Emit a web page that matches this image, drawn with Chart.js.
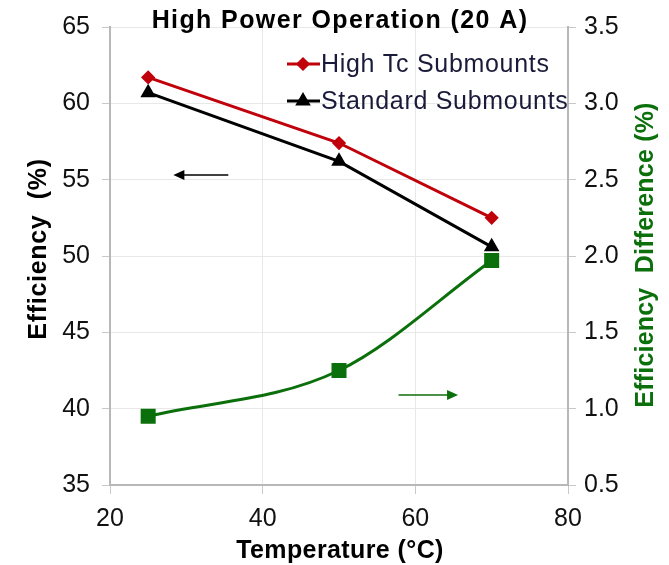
<!DOCTYPE html>
<html>
<head>
<meta charset="utf-8">
<script src="https://cdn.jsdelivr.net/npm/chart.js@4.4.1/dist/chart.umd.min.js"></script>
<style>
  html, body { margin: 0; padding: 0; background: #fff; }
  #wrap { width: 669px; height: 565px; position: relative; }
</style>
</head>
<body>
<div id="wrap"><canvas id="myChart"></canvas></div>
<script>
// temperatures (°C)
const temps = [25, 50, 70];
// efficiency (%) on the left axis
const highTc = [61.7, 57.4, 52.5];
const standard = [60.7, 56.2, 50.6];
// efficiency difference (%) on the right axis
const diff = [0.95, 1.25, 1.97];

const xTicks = [20, 40, 60, 80];
const leftTicks = [35, 40, 45, 50, 55, 60, 65];
const rightTicks = [0.5, 1.0, 1.5, 2.0, 2.5, 3.0, 3.5];

// arrows telling which axis a curve belongs to: [x0, x1, y]
const leftArrow = [35.5, 28.3, 55.3];
const rightArrow = [57.8, 65.6, 1.09];

const green = '#0b6f0b';
const red = '#c0000a';
const font = '"Liberation Sans", Arial, sans-serif';

const toPts = (ys) => temps.map((t, i) => ({ x: t, y: ys[i] }));

const drawArrow = (ctx, x0, x1, y, color) => {
  const dir = Math.sign(x1 - x0);
  ctx.save();
  ctx.strokeStyle = color;
  ctx.fillStyle = color;
  ctx.lineWidth = 1.5;
  ctx.beginPath();
  ctx.moveTo(x0, y);
  ctx.lineTo(x1 - dir * 8, y);
  ctx.stroke();
  ctx.beginPath();
  ctx.moveTo(x1, y);
  ctx.lineTo(x1 - dir * 11, y - 5);
  ctx.lineTo(x1 - dir * 11, y + 5);
  ctx.closePath();
  ctx.fill();
  ctx.restore();
};

const text = (ctx, str, x, y, opts) => {
  ctx.save();
  ctx.translate(x, y);
  if (opts.rotate) ctx.rotate(opts.rotate);
  ctx.font = opts.font;
  ctx.letterSpacing = (opts.spacing || 0) + 'px';
  ctx.fillStyle = opts.color;
  ctx.textAlign = opts.align || 'center';
  ctx.textBaseline = 'middle';
  ctx.fillText(str, 0, 0);
  ctx.restore();
};

const extras = {
  id: 'extras',
  afterDatasetsDraw(chart) {
    const { ctx, scales } = chart;
    const x = scales.x, yl = scales.y, yr = scales.y2;

    drawArrow(ctx, x.getPixelForValue(leftArrow[0]), x.getPixelForValue(leftArrow[1]),
      yl.getPixelForValue(leftArrow[2]), '#000');
    drawArrow(ctx, x.getPixelForValue(rightArrow[0]), x.getPixelForValue(rightArrow[1]),
      yr.getPixelForValue(rightArrow[2]), green);

    const bold = 'bold 25px ' + font;
    // title sits on the top edge of the plot
    text(ctx, 'High Power Operation (20 A)', 340, 21, { font: bold, color: '#000', spacing: 1.4 });
    // axis titles
    text(ctx, 'Temperature (°C)', 340, 551, { font: bold, color: '#000', spacing: 0.4 });
    text(ctx, 'Efficiency  (%)', 39, 249, { font: bold, color: '#000', spacing: 0.7, rotate: -Math.PI / 2 });
    text(ctx, 'Efficiency  Difference (%)', 646, 255, { font: bold, color: green, spacing: 0.2, rotate: -Math.PI / 2 });

    // legend inside the plot, top right
    const items = [
      { label: 'High Tc Submounts', color: red, marker: 'rectRot', y: 64 },
      { label: 'Standard Submounts', color: '#000', marker: 'triangle', y: 101 }
    ];
    items.forEach(it => {
      ctx.save();
      ctx.strokeStyle = it.color;
      ctx.lineWidth = 3;
      ctx.beginPath();
      ctx.moveTo(287, it.y);
      ctx.lineTo(320, it.y);
      ctx.stroke();
      ctx.fillStyle = it.color;
      Chart.helpers.drawPoint(ctx, { pointStyle: it.marker, radius: it.marker === 'triangle' ? 6 : 5, borderWidth: 1 }, 303, it.y);
      ctx.restore();
      text(ctx, it.label, 321, it.y + 1, { font: '25px ' + font, color: '#1a1a3a', spacing: 0.7, align: 'left' });
    });
  }
};

new Chart(document.getElementById('myChart'), {
  type: 'line',
  data: {
    datasets: [
      {
        label: 'High Tc Submounts',
        data: toPts(highTc),
        borderColor: red,
        backgroundColor: red,
        borderWidth: 3,
        pointStyle: 'rectRot',
        pointRadius: 5,
        yAxisID: 'y'
      },
      {
        label: 'Standard Submounts',
        data: toPts(standard),
        borderColor: '#000',
        backgroundColor: '#000',
        borderWidth: 3,
        pointStyle: 'triangle',
        pointRadius: 6,
        yAxisID: 'y'
      },
      {
        label: 'Efficiency Difference',
        data: toPts(diff),
        borderColor: green,
        backgroundColor: green,
        borderWidth: 3,
        pointStyle: 'rect',
        pointRadius: 8.5,
        cubicInterpolationMode: 'monotone',
        yAxisID: 'y2'
      }
    ]
  },
  options: {
    responsive: true,
    maintainAspectRatio: false,
    animation: false,
    layout: { padding: { top: 27, right: 0, left: 0, bottom: 0 } },
    plugins: { legend: { display: false }, tooltip: { enabled: false } },
    scales: {
      x: {
        type: 'linear',
        min: 20, max: 80,
        afterBuildTicks: (s) => { s.ticks = xTicks.map(v => ({ value: v })); },
        grid: { color: '#e8e8e8', tickColor: '#c8c8c8', tickLength: 9, lineWidth: 1 },
        border: { color: '#b8b8b8', width: 2 },
        ticks: { color: '#111', font: { family: font, size: 25 }, padding: 10 },
        afterFit: (s) => { s.height = 80; }
      },
      y: {
        position: 'left',
        min: 35, max: 65,
        afterBuildTicks: (s) => { s.ticks = leftTicks.map(v => ({ value: v })); },
        grid: { color: '#e8e8e8', tickColor: '#c8c8c8', tickLength: 8 },
        border: { color: '#b8b8b8', width: 2 },
        ticks: { color: '#111', font: { family: font, size: 25 }, padding: 12 },
        afterFit: (s) => { s.width = 110; }
      },
      y2: {
        position: 'right',
        min: 0.5, max: 3.5,
        afterBuildTicks: (s) => { s.ticks = rightTicks.map(v => ({ value: v })); },
        grid: { drawOnChartArea: false, tickColor: '#c8c8c8', tickLength: 8 },
        border: { color: '#b8b8b8', width: 2 },
        ticks: { color: '#111', font: { family: font, size: 25 }, padding: 8, callback: (v) => v.toFixed(1) },
        afterFit: (s) => { s.width = 101; }
      }
    }
  },
  plugins: [extras]
});
</script>
</body>
</html>
